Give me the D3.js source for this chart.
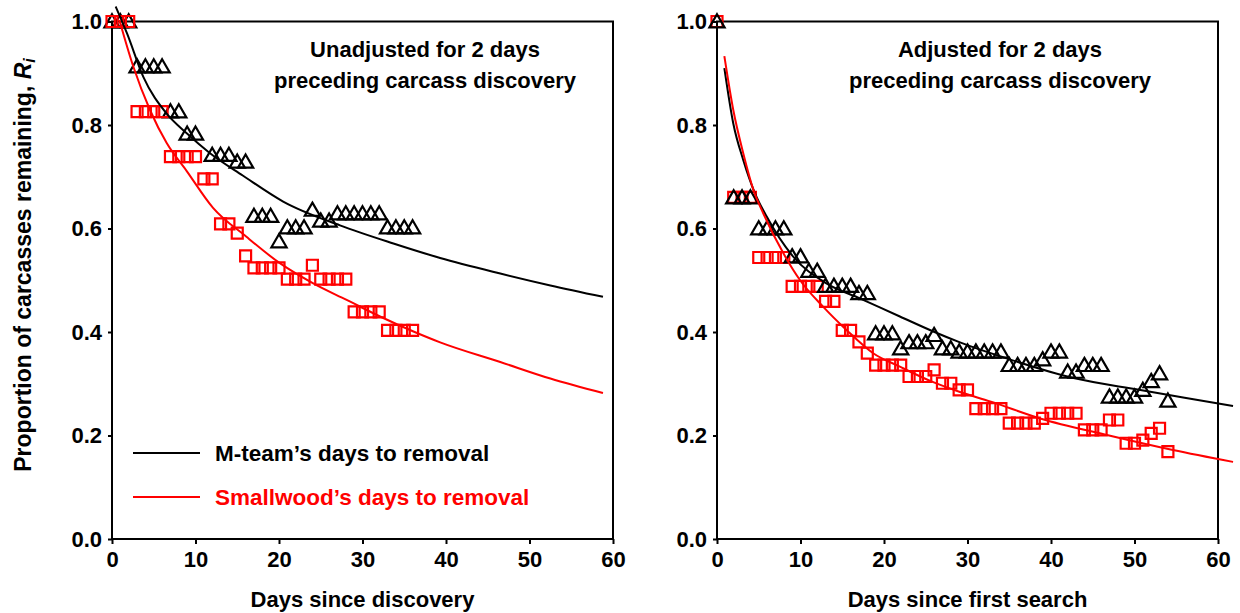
<!DOCTYPE html>
<meta charset="utf-8">
<script src="https://cdn.jsdelivr.net/npm/d3@7"></script>
<style>
body { margin: 0; background: #fff; }
text { font-family: "Liberation Sans", Arial, sans-serif; font-weight: bold; }
.frame { fill: none; stroke: #000; stroke-width: 2px; }
.axis path { display: none; }
.axis line { stroke: #000; stroke-width: 2px; }
.axis text { font-size: 22px; fill: #000; font-family: "Liberation Sans", Arial, sans-serif; font-weight: bold; }
</style>
<body>
<script>

// observed points, left panel (days since discovery)
var leftMteam = [[0,1],[1,1],[2,1],[3,0.913],[4,0.913],[5,0.913],[6,0.913],[7,0.826],[8,0.826],
  [9,0.783],[10,0.783],[12,0.742],[13,0.742],[14,0.742],[15,0.729],[16,0.729],
  [17,0.624],[18,0.624],[19,0.624],[20,0.575],[21,0.602],[22,0.602],[23,0.602],[24,0.636],
  [25,0.615],[26,0.615],[27,0.629],[28,0.629],[29,0.629],[30,0.629],[31,0.629],[32,0.629],
  [33,0.602],[34,0.602],[35,0.602],[36,0.602]];
var leftSmall = [[0,1],[1,1],[2,1],[3,0.826],[4,0.826],[5,0.826],[6,0.826],[7,0.739],[8,0.739],
  [9,0.739],[10,0.739],[11,0.696],[12,0.696],[13,0.609],[14,0.609],[15,0.591],[16,0.547],
  [17,0.524],[18,0.524],[19,0.524],[20,0.524],[21,0.502],[22,0.502],[23,0.502],[24,0.529],
  [25,0.502],[26,0.502],[27,0.502],[28,0.502],[29,0.439],[30,0.439],[31,0.439],[32,0.439],
  [33,0.403],[34,0.403],[35,0.403],[36,0.403]];
// fitted curves, left panel
var leftMteamFit = [[0.44,1.029],[1.8,0.977],[3.75,0.893],[6.55,0.822],[8.95,0.784],[11.7,0.746],
  [15.7,0.702],[20.5,0.652],[27.3,0.606],[33.7,0.571],[39.3,0.543],[46.5,0.513],[52.5,0.490],[58.8,0.468]];
var leftSmallFit = [[0.88,1.003],[2.55,0.913],[4.55,0.829],[6.55,0.765],[8.95,0.711],[12.1,0.640],
  [16.1,0.584],[20.1,0.533],[24.1,0.494],[28.1,0.462],[32.1,0.430],[36.1,0.401],[39.3,0.380],
  [46.5,0.342],[52.5,0.310],[58.8,0.282]];

// observed points, right panel (days since first search)
var rightMteam = [[0,1],[2,0.660],[3,0.660],[4,0.660],[5,0.600],[6,0.600],[7,0.600],[8,0.600],
  [9,0.546],[10,0.546],[11,0.518],[12,0.518],[13,0.489],[14,0.489],[15,0.489],[16,0.489],
  [17,0.475],[18,0.475],[19,0.397],[20,0.397],[21,0.397],[22,0.368],[23,0.380],[24,0.380],
  [25,0.380],[26,0.394],[27,0.368],[28,0.368],[29,0.362],[30,0.362],[31,0.362],[32,0.362],
  [33,0.362],[34,0.362],[35,0.336],[36,0.336],[37,0.336],[38,0.336],[39,0.347],[40,0.362],
  [41,0.362],[42,0.323],[43,0.323],[44,0.336],[45,0.336],[46,0.336],[47,0.275],[48,0.275],
  [49,0.275],[50,0.275],[51,0.288],[52,0.305],[53,0.320],[54,0.267]];
var rightSmall = [[0,1],[2,0.660],[3,0.660],[4,0.660],[5,0.544],[6,0.544],[7,0.544],[8,0.544],
  [9,0.488],[10,0.488],[11,0.488],[12,0.488],[13,0.459],[14,0.459],[15,0.403],[16,0.403],
  [17,0.381],[18,0.359],[19,0.336],[20,0.336],[21,0.336],[22,0.336],[23,0.314],[24,0.314],
  [25,0.314],[26,0.327],[27,0.301],[28,0.301],[29,0.288],[30,0.288],[31,0.252],[32,0.252],
  [33,0.252],[34,0.252],[35,0.224],[36,0.224],[37,0.224],[38,0.224],[39,0.233],[40,0.243],
  [41,0.243],[42,0.243],[43,0.243],[44,0.211],[45,0.211],[46,0.211],[47,0.230],[48,0.230],
  [49,0.185],[50,0.185],[51,0.191],[52,0.204],[53,0.214],[54,0.169]];
// fitted curves, right panel
var rightMteamFit = [[0.88,0.910],[1.95,0.803],[3.15,0.732],[4.55,0.668],[5.95,0.623],[9.1,0.546],
  [13.1,0.494],[17.1,0.465],[21.9,0.430],[25.9,0.401],[29.1,0.380],[34.7,0.349],[42.7,0.311],
  [50.7,0.288],[56,0.273],[61.8,0.257]];
var rightSmallFit = [[0.88,0.933],[1.95,0.829],[3.15,0.745],[4.35,0.675],[5.55,0.629],[7.95,0.552],
  [9.95,0.500],[12.7,0.449],[15.5,0.404],[18.7,0.359],[21.9,0.333],[25.9,0.303],[29.1,0.284],
  [32.7,0.266],[38.7,0.233],[46.7,0.201],[54.6,0.172],[61.8,0.149]];

var xTicks = [0, 10, 20, 30, 40, 50, 60];
var yTicks = [0, 0.2, 0.4, 0.6, 0.8, 1.0];

var width = 1240, height = 613;
var plotTop = 21.5, plotBottom = 539;

var svg = d3.select("body").append("svg")
    .attr("width", width)
    .attr("height", height);

var y = d3.scaleLinear().domain([0, 1]).range([plotBottom, plotTop]);

function panel(left, right, mteam, small, mteamFit, smallFit, titleX, title1, title2, xTitle, redOnTop) {
  var x = d3.scaleLinear().domain([0, 60]).range([left, right]);
  var g = svg.append("g");

  g.append("g")
      .attr("class", "axis")
      .attr("transform", "translate(" + left + ",0)")
      .call(d3.axisLeft(y).tickValues(yTicks).tickSize(4).tickPadding(6)
        .tickFormat(d3.format(".1f")));

  g.append("g")
      .attr("class", "axis")
      .attr("transform", "translate(0," + plotBottom + ")")
      .call(d3.axisBottom(x).tickValues(xTicks).tickSize(5).tickPadding(7));

  g.append("rect")
      .attr("class", "frame")
      .attr("x", left).attr("y", plotTop)
      .attr("width", right - left).attr("height", plotBottom - plotTop);

  var line = d3.line()
      .x(function(d) { return x(d[0]); })
      .y(function(d) { return y(d[1]); })
      .curve(d3.curveMonotoneX);

  function drawTri() {
    g.append("g").selectAll("path")
        .data(mteam)
        .enter().append("path")
        .attr("d", d3.symbol().type(d3.symbolTriangle).size(100))
        .attr("transform", function(d) { return "translate(" + x(d[0]) + "," + (y(d[1]) + 1.5) + ")"; })
        .style("fill", "none")
        .style("stroke", "#000")
        .style("stroke-width", 2.2);
  }
  function drawSq() {
    g.append("g").selectAll("path")
        .data(small)
        .enter().append("path")
        .attr("d", d3.symbol().type(d3.symbolSquare).size(121))
        .attr("transform", function(d) { return "translate(" + x(d[0]) + "," + y(d[1]) + ")"; })
        .style("fill", "none")
        .style("stroke", "#ff0000")
        .style("stroke-width", 2.2);
  }
  if (redOnTop) { drawTri(); drawSq(); } else { drawSq(); drawTri(); }

  g.append("path").datum(mteamFit)
      .attr("d", line)
      .style("fill", "none").style("stroke", "#000").style("stroke-width", 2);
  g.append("path").datum(smallFit)
      .attr("d", line)
      .style("fill", "none").style("stroke", "#ff0000").style("stroke-width", 2);

  g.append("text").attr("x", titleX).attr("y", 57)
      .attr("text-anchor", "middle").style("font-size", "22px").text(title1);
  g.append("text").attr("x", titleX).attr("y", 88)
      .attr("text-anchor", "middle").style("font-size", "22px").text(title2);

  g.append("text")
      .attr("x", (left + right) / 2).attr("y", 607)
      .attr("text-anchor", "middle").style("font-size", "22px").text(xTitle);

  return x;
}

panel(112, 613, leftMteam, leftSmall, leftMteamFit, leftSmallFit, 425,
  "Unadjusted for 2 days", "preceding carcass discovery", "Days since discovery", true);
panel(717, 1218, rightMteam, rightSmall, rightMteamFit, rightSmallFit, 1000,
  "Adjusted for 2 days", "preceding carcass discovery", "Days since first search", false);

// legend
var legend = [["M-team\u2019s days to removal", "#000", 453], ["Smallwood\u2019s days to removal", "#ff0000", 497]];
legend.forEach(function(l) {
  svg.append("line")
      .attr("x1", 133).attr("x2", 200).attr("y1", l[2]).attr("y2", l[2])
      .style("stroke", l[1]).style("stroke-width", 2);
  svg.append("text")
      .attr("x", 215).attr("y", l[2] + 8)
      .style("font-size", "22.5px").style("fill", l[1]).text(l[0]);
});

// y axis title
var yt = svg.append("text")
    .attr("transform", "translate(31,265) rotate(-90)")
    .attr("text-anchor", "middle")
    .style("font-size", "23px");
yt.append("tspan").text("Proportion of carcasses remaining, ");
yt.append("tspan").style("font-style", "italic").text("R");
yt.append("tspan").style("font-style", "italic").style("font-size", "16px").attr("dy", 4).text("i");

</script>
</body>
